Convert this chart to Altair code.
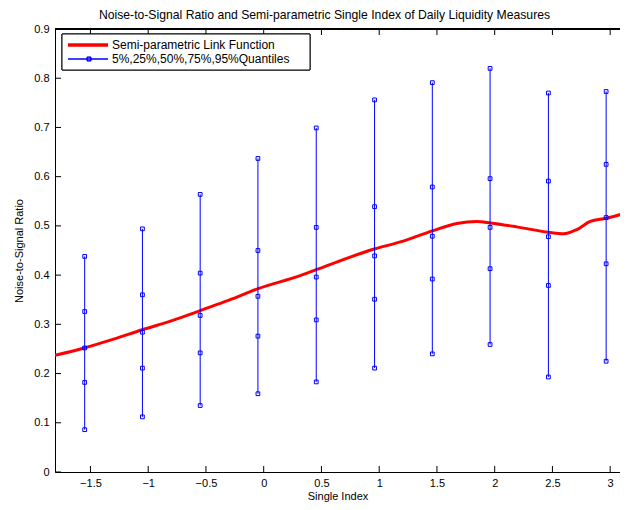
import altair as alt
import pandas as pd

# ---- data ----
quant_x = [-1.55, -1.05, -0.55, -0.05, 0.455, 0.96, 1.46, 1.96, 2.465, 2.965]
q05 = [0.086, 0.112, 0.135, 0.159, 0.183, 0.211, 0.240, 0.259, 0.193, 0.225]
q25 = [0.182, 0.211, 0.242, 0.276, 0.309, 0.351, 0.392, 0.413, 0.379, 0.423]
q50 = [0.252, 0.284, 0.318, 0.357, 0.396, 0.439, 0.479, 0.497, 0.478, 0.517]
q75 = [0.326, 0.360, 0.404, 0.450, 0.497, 0.539, 0.579, 0.596, 0.591, 0.625]
q95 = [0.438, 0.494, 0.564, 0.637, 0.699, 0.756, 0.791, 0.820, 0.770, 0.773]

link_x = [-1.807, -1.554, -1.3, -1.052, -0.8, -0.55, -0.3, -0.048, 0.316, 0.455,
          0.957, 1.208, 1.461, 1.673, 1.846, 1.964, 2.192, 2.466, 2.596, 2.712,
          2.827, 2.968, 3.156]
link_y = [0.237, 0.252, 0.270, 0.289, 0.307, 0.328, 0.349, 0.3726, 0.399, 0.411,
          0.453, 0.469, 0.490, 0.505, 0.509, 0.506, 0.498, 0.487, 0.484, 0.4925,
          0.509, 0.5155, 0.528]

x_ticks = [-1.5, -1, -0.5, 0, 0.5, 1, 1.5, 2, 2.5, 3]
y_ticks = [0, 0.1, 0.2, 0.3, 0.4, 0.5, 0.6, 0.7, 0.8, 0.9]

title_text = "Noise-to-Signal Ratio and Semi-parametric Single Index of Daily Liquidity Measures"
legend_labels = ["Semi-parametric Link Function", "5%,25%,50%,75%,95%Quantiles"]

FONT = "Liberation Sans"
W, H = 565, 443

# ---- tables ----
link_df = pd.DataFrame({"x": link_x, "y": link_y})
range_df = pd.DataFrame({"x": quant_x, "lo": q05, "hi": q95})
pts_df = pd.DataFrame({
    "x": quant_x * 5,
    "y": q05 + q25 + q50 + q75 + q95,
})
xt_df = pd.DataFrame({"t": x_ticks})
yt_df = pd.DataFrame({"t": y_ticks})

xscale = alt.Scale(domain=[-1.807, 3.085], nice=False, zero=False)
yscale = alt.Scale(domain=[0, 0.9], nice=False, zero=False)

xaxis = alt.Axis(values=x_ticks, format="~g", ticks=False, grid=False,
                 domainColor="black", labelColor="black", labelFont=FONT,
                 labelFontSize=11, labelPadding=5, labelOverlap=False,
                 labelFlush=False, title="Single Index", titleFont=FONT,
                 titleFontSize=11, titleFontWeight="normal", titleColor="black",
                 titlePadding=2)
yaxis = alt.Axis(values=y_ticks, format="~g", ticks=False, grid=False,
                 domainColor="black", labelColor="black", labelFont=FONT,
                 labelFontSize=11, labelPadding=6, labelOverlap=False,
                 labelFlush=False, title="Noise-to-Signal Ratio", titleFont=FONT,
                 titleFontSize=11, titleFontWeight="normal", titleColor="black",
                 titlePadding=9)

link = alt.Chart(link_df).mark_line(color="#ff0000", strokeWidth=3,
                                    interpolate="monotone", clip=True).encode(
    x=alt.X("x:Q", scale=xscale, axis=xaxis),
    y=alt.Y("y:Q", scale=yscale, axis=yaxis),
)

vlines = alt.Chart(range_df).mark_rule(color="#0000ff", strokeWidth=1).encode(
    x=alt.X("x:Q", scale=xscale),
    y=alt.Y("lo:Q", scale=yscale),
    y2="hi:Q",
)

pts = alt.Chart(pts_df).mark_point(shape="square", filled=False, color="#0000ff",
                                   size=14, strokeWidth=1, opacity=1).encode(
    x=alt.X("x:Q", scale=xscale),
    y=alt.Y("y:Q", scale=yscale),
)

# inward tick marks (MATLAB style)
xt_bottom = alt.Chart(xt_df).mark_rule(color="black", strokeWidth=1).encode(
    x=alt.X("t:Q", scale=xscale), y=alt.value(H), y2=alt.value(H - 6))
xt_top = alt.Chart(xt_df).mark_rule(color="black", strokeWidth=1).encode(
    x=alt.X("t:Q", scale=xscale), y=alt.value(0), y2=alt.value(6))
yt_left = alt.Chart(yt_df).mark_rule(color="black", strokeWidth=1).encode(
    y=alt.Y("t:Q", scale=yscale), x=alt.value(0), x2=alt.value(6))
top_border = alt.Chart(xt_df).mark_rule(color="black", strokeWidth=1).encode(
    x=alt.value(0), x2=alt.value(W), y=alt.value(0))

# legend box
leg_df = pd.DataFrame({"label": legend_labels})
leg_box = alt.Chart(leg_df).mark_rect(fill="white", stroke="black", strokeWidth=1).encode(
    x=alt.value(7), x2=alt.value(255), y=alt.value(5), y2=alt.value(41))
leg_red = alt.Chart(leg_df).mark_rule(color="#ff0000", strokeWidth=3).encode(
    x=alt.value(13), x2=alt.value(53), y=alt.value(16))
leg_blue = alt.Chart(leg_df).mark_rule(color="#0000ff", strokeWidth=1).encode(
    x=alt.value(13), x2=alt.value(53), y=alt.value(30))
leg_sq = alt.Chart(leg_df).mark_point(shape="square", filled=False, color="#0000ff",
                                      size=14, strokeWidth=1, opacity=1).encode(
    x=alt.value(34), y=alt.value(30))
leg_t1 = alt.Chart(pd.DataFrame({"label": [legend_labels[0]]})).mark_text(
    align="left", baseline="middle", font=FONT, fontSize=12, color="black").encode(
    x=alt.value(57), y=alt.value(16), text="label:N")
leg_t2 = alt.Chart(pd.DataFrame({"label": [legend_labels[1]]})).mark_text(
    align="left", baseline="middle", font=FONT, fontSize=12, color="black").encode(
    x=alt.value(57), y=alt.value(30), text="label:N")

chart = alt.layer(
    link, vlines, pts, xt_bottom, xt_top, yt_left, top_border,
    leg_box, leg_red, leg_blue, leg_sq, leg_t1, leg_t2,
).properties(
    width=W, height=H,
    title=alt.TitleParams(title_text, font=FONT, fontSize=12.2, fontWeight="normal",
                          color="black", anchor="middle", dx=-13, offset=2),
    autosize=alt.AutoSizeParams(type="none"),
    padding={"left": 47, "top": 21, "right": 0, "bottom": 30},
).configure_view(stroke=None).configure(background="white")

chart.save("out.html", embed_options={"renderer": "svg", "actions": False})
